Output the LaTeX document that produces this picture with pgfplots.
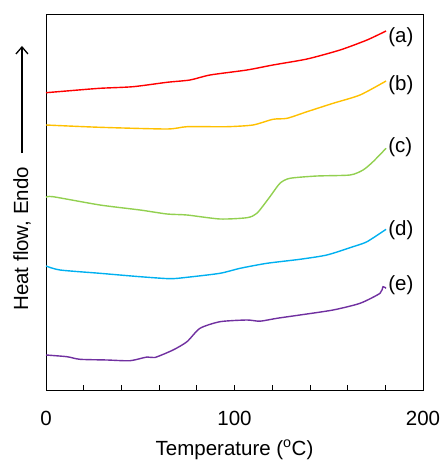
\documentclass[border=0pt]{standalone}
\usepackage{pgfplots}
\pgfplotsset{compat=1.18}
\usetikzlibrary{arrows.meta}
\usepackage{fontspec}
\setmainfont{Liberation Sans}
\definecolor{cA}{RGB}{255,0,0}
\definecolor{cB}{RGB}{255,192,0}
\definecolor{cC}{RGB}{146,208,80}
\definecolor{cD}{RGB}{0,176,240}
\definecolor{cE}{RGB}{112,48,160}
\begin{document}
\begin{tikzpicture}
\begin{axis}[
  scale only axis, width=377pt, height=376pt,
  xmin=0, xmax=200, ymin=0, ymax=376,
  xtick={0,100,200}, minor xtick={20,40,60,80,120,140,160,180},
  ytick=\empty,
  xtick pos=bottom, tick align=inside,
  major tick length=5pt, minor tick length=5pt,
  tick style={black, line width=0.8pt},
  axis line style={line width=0.8pt},
  font=\fontsize{20.5}{24}\selectfont,
  /pgf/number format/assume math mode=true,
  xticklabel style={anchor=base, yshift=-35.7pt},
  clip=false,
  every axis plot/.append style={line width=1.4pt, smooth, tension=0.4},
]
% (a)
\addplot[cA] coordinates {(0,297.3) (14,299.5) (28.6,301.7) (46.2,303.3) (64.2,307.7) (76.4,310) (87,315) (106.6,320) (120.4,325) (138.5,331) (156,340) (170.3,350) (180.4,359)};
% (b)
\addplot[cB] coordinates {(0,265) (28.6,262.7) (64.2,261) (74.8,263.3) (96,263.3) (109.8,265) (120.4,270.7) (127.9,271.7) (138.5,278.3) (152.3,286.7) (166.6,295) (180.4,309)};
% (c)
\addplot[cC] coordinates {(0,192.7) (3.7,193.3) (28.6,185) (49.9,180) (64.2,176) (74.8,175) (92.3,171) (106.6,172.3) (111.9,176.7) (118.8,193.3) (124.1,206.7) (129.4,211.7) (143.8,214) (161.3,215) (168.2,220) (173.5,228.3) (180.4,241.7)};
% (d)
\addplot[cD] coordinates {(0,124) (7.4,120) (28.6,116.7) (49.9,113.3) (65.8,111.3) (74.8,112.7) (92.3,116.7) (103,121.7) (117.2,126.7) (134.7,130.7) (149,135) (162.9,143.3) (170.3,148.3) (180.4,160.7)};
% (e)
\addplot[cE] coordinates {(0,35) (11.1,33.3) (18,30.7) (32.4,30) (44.6,29.3) (53.6,33) (57.8,32.5) (67.4,40) (74.8,48.3) (81.7,61.7) (92.3,68.3) (106.6,70) (113.5,68.8) (122.5,71.7) (134.7,75) (152.3,80) (166.6,86.7) (177.2,96.7) (178.8,103.3) (180.4,101.7)};
\node[anchor=west, inner sep=0pt] at (axis cs:181.5,353) {(a)};
\node[anchor=west, inner sep=0pt] at (axis cs:181.5,305) {(b)};
\node[anchor=west, inner sep=0pt] at (axis cs:181.5,243) {(c)};
\node[anchor=west, inner sep=0pt] at (axis cs:181.5,160) {(d)};
\node[anchor=west, inner sep=0pt] at (axis cs:181.5,105) {(e)};
\draw[-{Straight Barb[length=7pt,width=12pt]}, line width=1.3pt] (rel axis cs:-0.0637,0.63) -- (rel axis cs:-0.0637,0.915);
\node[rotate=90, inner sep=0pt] at (rel axis cs:-0.0637,0.402) {Heat flow, Endo};
\node[anchor=base, inner sep=0pt] at (rel axis cs:0.5,-0.173) {Temperature (\textsuperscript{o}C)};
\end{axis}
\pgfresetboundingbox
\path (-46pt,-71pt) rectangle (395pt,390pt);
\end{tikzpicture}
\end{document}
